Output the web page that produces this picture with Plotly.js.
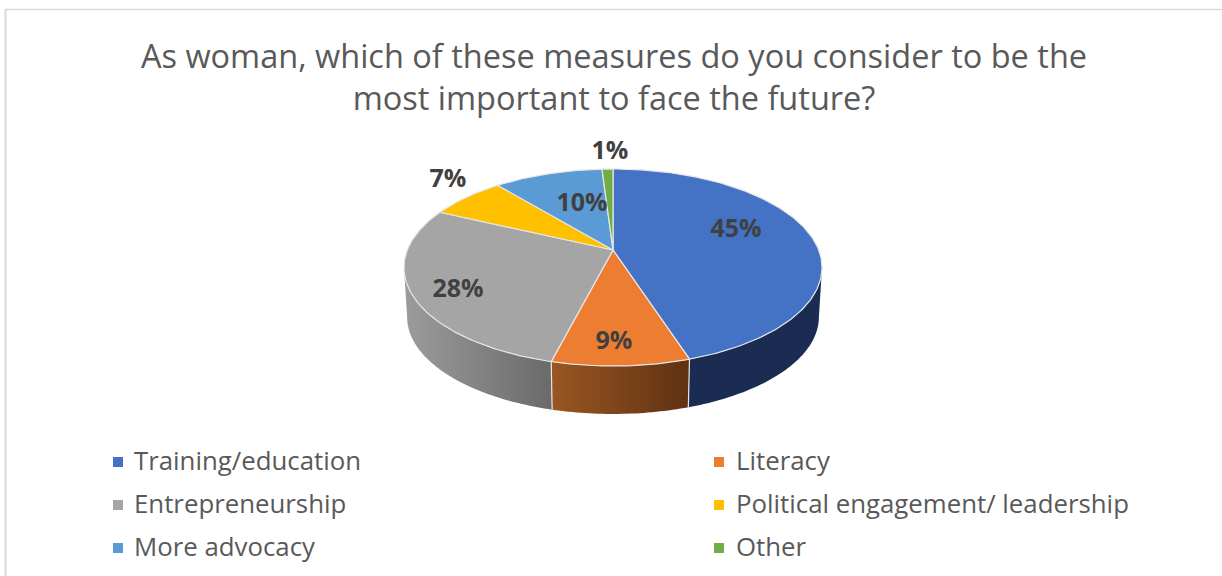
<!DOCTYPE html>
<html>
<head>
<meta charset="utf-8">
<script src="https://cdn.plot.ly/plotly-3.0.1.min.js"></script>
<style>html,body{margin:0;padding:0;background:#fff}#chart{width:1222px;height:576px}</style>
</head>
<body>
<div id="chart"></div>
<script>
// Survey answers, in percent
const categories = ['Training/education', 'Literacy', 'Entrepreneurship', 'Political engagement/ leadership', 'More advocacy', 'Other'];
const values = [45, 9, 28, 7, 10, 1];
const topColors = ['#4472c4', '#ed7d31', '#a5a5a5', '#ffc000', '#5b9bd5', '#70ad47'];
// Left and right shade of each slice's outer wall
const wallShades = [
  ['#1a2c52', '#1a2c52'],
  ['#9a5622', '#5f3112'],
  ['#9c9c9c', '#6a6a6a'],
  ['#99731a', '#99731a'],
  ['#365d80', '#365d80'],
  ['#43682b', '#43682b']
];
// Centres of the percentage labels
const labelX = [736, 614, 458, 448, 582, 610];
const labelY = [231, 343, 291, 181, 205, 153];
// Legend grid
const legendMarkerX = [118, 719, 118, 719, 118, 719];
const legendTextX = [134, 736, 134, 736, 134, 736];
const legendY = [464, 464, 507, 507, 550, 550];
const legendKeyY = [462, 462, 505, 505, 548, 548];

const titleText = 'As woman, which of these measures do you consider to be the<br>most important to face the future?';
const inkColor = '#595959';
const labelColor = '#404040';
const edgeColor = '#e6e6e6';
const fontFamily = '"Open Sans", "Noto Sans", sans-serif';

// Tilted disc with a perspective foreshortening
const apexX = 613, apexY = 250;
const radiusX = 205.7, radiusY = 95.4, tilt = 0.1777;
const floorScale = 0.985, depth = 49.7;

const rim = (turn) => {
  const a = turn * 2 * Math.PI;
  const d = 1 + tilt * Math.cos(a);
  return [apexX + radiusX * Math.sin(a) / d, apexY - radiusY * Math.cos(a) / d];
};
const floor = (turn) => {
  const [x, y] = rim(turn);
  return [apexX + (x - apexX) * floorScale, apexY + (y - apexY) * floorScale + depth];
};
const arc = (fn, from, to) => {
  const n = Math.max(2, Math.ceil(Math.abs(to - from) * 360));
  const pts = [];
  for (let i = 0; i <= n; i++) pts.push(fn(from + (to - from) * i / n));
  return pts;
};

// Cumulative slice limits, as fractions of a full turn from twelve o'clock
const total = values.reduce((s, v) => s + v, 0);
const limits = [0];
values.forEach((v) => limits.push(limits[limits.length - 1] + v / total));

// Part of the wall that faces the viewer
const wallFrom = Math.acos(-tilt) / (2 * Math.PI);
const wallTo = 1 - wallFrom;

const traces = [];

// Outer walls and seams
values.forEach((v, i) => {
  const from = Math.max(limits[i], wallFrom);
  const to = Math.min(limits[i + 1], wallTo);
  if (to <= from) return;
  const poly = arc(rim, from, to).concat(arc(floor, to, from));
  const xs = poly.map((p) => p[0]);
  const trace = {
    type: 'scatter', mode: 'none', fill: 'toself', hoverinfo: 'skip', showlegend: false,
    x: xs.concat(xs[0]), y: poly.map((p) => p[1]).concat(poly[0][1])
  };
  if (wallShades[i][0] === wallShades[i][1]) {
    trace.fillcolor = wallShades[i][0];
  } else {
    trace.fillgradient = {
      type: 'horizontal',
      colorscale: [[0, wallShades[i][1]], [1, wallShades[i][0]]],
      start: Math.max(...xs), stop: Math.min(...xs)
    };
  }
  traces.push(trace);
});
limits.slice(1, -1).forEach((t) => {
  if (t <= wallFrom || t >= wallTo) return;
  const a = rim(t), b = floor(t);
  traces.push({
    type: 'scatter', mode: 'lines', hoverinfo: 'skip', showlegend: false,
    x: [a[0], b[0]], y: [a[1], b[1]], line: {color: edgeColor, width: 1.2}
  });
});

// Top faces
values.forEach((v, i) => {
  const poly = [[apexX, apexY]].concat(arc(rim, limits[i], limits[i + 1]), [[apexX, apexY]]);
  traces.push({
    type: 'scatter', mode: 'lines', fill: 'toself', fillcolor: topColors[i],
    line: {color: edgeColor, width: 1.2},
    name: categories[i], showlegend: false, hoverinfo: 'name',
    x: poly.map((p) => p[0]), y: poly.map((p) => p[1])
  });
});

// Percentage labels
traces.push({
  type: 'scatter', mode: 'text', hoverinfo: 'skip', showlegend: false, cliponaxis: false,
  x: labelX, y: labelY, text: values.map((v) => v + '%'), textposition: 'middle center',
  textfont: {family: fontFamily, size: 25, color: labelColor, weight: 700}
});

// Legend keys and captions
traces.push({
  type: 'scatter', mode: 'markers', hoverinfo: 'skip', showlegend: false,
  x: legendMarkerX, y: legendKeyY,
  marker: {symbol: 'square', size: 10, color: topColors, line: {width: 0}}
});
traces.push({
  type: 'scatter', mode: 'text', hoverinfo: 'skip', showlegend: false, cliponaxis: false,
  x: legendTextX, y: legendY, text: categories, textposition: 'middle right',
  textfont: {family: fontFamily, size: 25.8, color: inkColor}
});

const layout = {
  width: 1222, height: 576,
  margin: {l: 0, r: 0, t: 0, b: 0},
  paper_bgcolor: '#ffffff', plot_bgcolor: '#ffffff',
  showlegend: false,
  title: {
    text: titleText, x: 614 / 1222, xanchor: 'center', y: 1 - 68 / 576, yanchor: 'bottom',
    yref: 'container', font: {family: fontFamily, size: 32.5, color: inkColor}
  },
  xaxis: {range: [0, 1222], visible: false, fixedrange: true},
  yaxis: {range: [576, 0], visible: false, fixedrange: true},
  shapes: [
    {type: 'line', xref: 'x', yref: 'y', x0: 5, x1: 1222, y0: 9.5, y1: 9.5, line: {color: '#d9d9d9', width: 1.5}},
    {type: 'line', xref: 'x', yref: 'y', x0: 5.5, x1: 5.5, y0: 9, y1: 576, line: {color: '#d9d9d9', width: 2}}
  ]
};

Plotly.newPlot('chart', traces, layout, {displayModeBar: false, staticPlot: true});
</script>
</body>
</html>
